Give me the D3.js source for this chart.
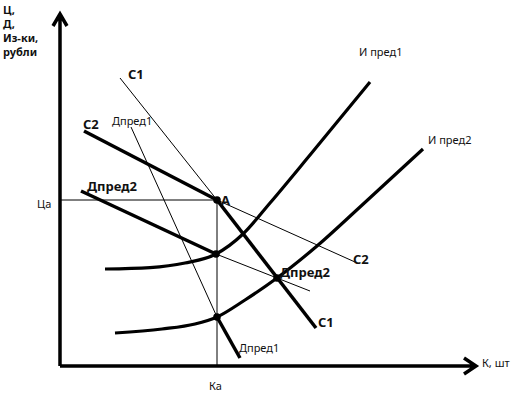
<!DOCTYPE html>
<html>
<head>
<meta charset="utf-8">
<script src="https://cdn.jsdelivr.net/npm/d3@7"></script>
<style>
  body { margin: 0; background: #fff; }
  text { font-family: "Noto Sans", "DejaVu Sans", sans-serif; fill: #111; }
</style>
</head>
<body>
<svg id="chart"></svg>
<script>

// chart units: x = quantity, y = price / costs (schematic)
const supply1 = [[15, 72], [39.25, 41.5], [64, 9.5]];          // C1
const supply2 = [[6, 58.75], [39.25, 41.5], [73.75, 26]];      // C2
const demand1 = [[17.75, 59.75], [39.25, 12.25], [45, 2]];     // Дпред1
const demand2 = [[5.25, 43.75], [39, 28], [62.5, 18.75]];      // Дпред2

const cost1 = [[11.25, 24.25], [22.5, 24.6], [31.25, 25.75], [39, 28],
               [45.75, 33], [52.5, 40.75], [62.5, 52.75], [77.5, 71]];                    // И пред1
const cost2 = [[13.75, 8.25], [25.5, 9.25], [33.75, 10.5], [39.25, 12.25], [46.25, 16.5],
               [54.25, 22], [64.25, 30], [75, 39.75], [90.75, 54.25]];                    // И пред2

const pointA = [39.25, 41.5];
const crossF = [54.25, 22];

const width = 516;
const height = 396;

const x = d3.scaleLinear().domain([0, 104]).range([60, 476]);
const y = d3.scaleLinear().domain([0, 88]).range([366, 14]);

const svg = d3.select("#chart")
    .attr("width", width)
    .attr("height", height);

const line = d3.line().x(d => x(d[0])).y(d => y(d[1]));
const curve = d3.line().x(d => x(d[0])).y(d => y(d[1])).curve(d3.curveMonotoneX);

// guide lines to A
svg.append("path")
    .attr("d", line([[0, pointA[1]], pointA, [pointA[0], 0]]))
    .attr("fill", "none")
    .attr("stroke", "#000")
    .attr("stroke-width", 1);

// cost curves
[cost1, cost2].forEach(c => {
    svg.append("path")
        .attr("d", curve(c))
        .attr("fill", "none")
        .attr("stroke", "#000")
        .attr("stroke-width", 3.2);
});

// straight lines: first part / second part thick or thin
const segs = [
    {pts: supply1, w: [1, 3.5]},
    {pts: supply2, w: [3.5, 1]},
    {pts: demand1, w: [1, 3.5]},
    {pts: demand2, w: [3.5, 1]}
];
segs.forEach(s => {
    [0, 1].forEach(i => {
        svg.append("path")
            .attr("d", line([s.pts[i], s.pts[i + 1]]))
            .attr("stroke", "#000")
            .attr("stroke-width", s.w[i]);
    });
});

// axes with arrows
const axisG = svg.append("g")
    .attr("fill", "none")
    .attr("stroke", "#000")
    .attr("stroke-width", 3.5);

axisG.append("path")
    .attr("d", `M${x(0)},${y(0)}V${y(88) + 1}M${x(0) - 7},${y(88) + 12}L${x(0)},${y(88)}L${x(0) + 7},${y(88) + 12}`);
axisG.append("path")
    .attr("d", `M${x(0)},${y(0)}H${x(104) - 1}M${x(104) - 12},${y(0) - 8}L${x(104)},${y(0)}L${x(104) - 12},${y(0) + 8}`);

// dots
[pointA, demand2[1], demand1[1], crossF].forEach(p => {
    svg.append("circle")
        .attr("cx", x(p[0]))
        .attr("cy", y(p[1]))
        .attr("r", 3.8)
        .attr("fill", "#000");
});

// labels
const labels = [
    {t: "C1", px: 128, py: 79, big: true},
    {t: "C2", px: 83, py: 129, big: true},
    {t: "Дпред1", px: 112, py: 125},
    {t: "Дпред2", px: 87, py: 191, big: true},
    {t: "Ца", px: 37, py: 208},
    {t: "A", px: 221, py: 205, big: true},
    {t: "C2", px: 353, py: 264, big: true},
    {t: "Дпред2", px: 280, py: 277, big: true},
    {t: "C1", px: 318, py: 327, big: true},
    {t: "Дпред1", px: 239, py: 352},
    {t: "К, шт", px: 482, py: 367},
    {t: "Ка", px: 209, py: 390},
    {t: "И пред1", px: 359, py: 56},
    {t: "И пред2", px: 428, py: 144}
];
svg.append("g")
    .selectAll("text")
    .data(labels)
    .join("text")
        .attr("x", d => d.px)
        .attr("y", d => d.py)
        .attr("font-size", d => d.big ? 13 : 11)
        .attr("font-weight", d => d.big ? "bold" : "normal")
        .text(d => d.t);

// y axis title
svg.append("text")
    .attr("font-size", 11)
    .attr("font-weight", "bold")
    .selectAll("tspan")
    .data(["Ц,", "Д,", "Из-ки,", "рубли"])
    .join("tspan")
        .attr("x", 3)
        .attr("y", (d, i) => 14 + i * 14)
        .text(d => d);

</script>
</body>
</html>
